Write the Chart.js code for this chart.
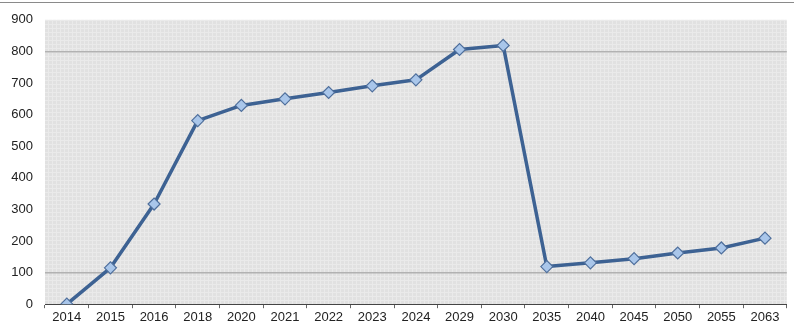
<!DOCTYPE html>
<html>
<head>
<meta charset="utf-8">
<script src="https://cdn.jsdelivr.net/npm/chart.js@4"></script>
<style>
  html, body { margin: 0; padding: 0; background: #fff; }
  #wrap { width: 794px; height: 324px; position: relative; }
</style>
</head>
<body>
<div id="wrap"><canvas id="chart" width="794" height="324"></canvas></div>
<script>
// ── DATA ──────────────────────────────────────────────
const years  = ["2014","2015","2016","2018","2020","2021","2022","2023","2024","2029","2030","2035","2040","2045","2050","2055","2063"];
const values = [0, 115, 317, 581, 629, 650, 670, 691, 710, 806, 819, 119, 131, 144, 162, 178, 209];
const yTicks = [0, 100, 200, 300, 400, 500, 600, 700, 800, 900];
const shownGrid = [100, 800];

// ── PLOT BACKGROUND (fine grey mesh) ──────────────────
function meshPattern(ctx) {
  const c = document.createElement("canvas");
  c.width = 4; c.height = 4;
  const p = c.getContext("2d");
  p.fillStyle = "#e1e1e1";
  p.fillRect(0, 0, 4, 4);
  p.fillStyle = "#eaeaea";
  p.fillRect(0, 0, 4, 1);
  p.fillRect(0, 0, 1, 4);
  return ctx.createPattern(c, "repeat");
}

const plotBg = {
  id: "plotBg",
  beforeDraw(chart) {
    const { ctx, chartArea: a } = chart;
    ctx.save();
    ctx.fillStyle = meshPattern(ctx);
    ctx.fillRect(a.left, a.top, a.right - a.left, a.bottom - a.top);
    // cut-off caption rule at the very top
    ctx.fillStyle = "#8a8a8a";
    ctx.fillRect(0, 2, chart.width, 1);
    ctx.restore();
  },
};

// ── CHART ─────────────────────────────────────────────
new Chart(document.getElementById("chart").getContext("2d"), {
  type: "line",
  data: {
    labels: years,
    datasets: [{
      data: values,
      borderColor: "#3d6293",
      borderWidth: 3.5,
      tension: 0,
      borderJoinStyle: "round",
      pointStyle: "rectRot",
      pointRadius: 6,
      pointBorderWidth: 1.2,
      pointBackgroundColor: "#a9c6ea",
      pointBorderColor: "#4f6f9c",
    }],
  },
  plugins: [plotBg],
  options: {
    responsive: false,
    animation: false,
    layout: { padding: { top: 17, right: 0, left: 0, bottom: 0 } },
    plugins: { legend: { display: false }, tooltip: { enabled: false } },
    scales: {
      x: {
        offset: true,
        grid: { offset: true, drawOnChartArea: false, drawTicks: true, tickLength: 4, color: "#666" },
        border: { display: true, color: "#444", width: 1 },
        ticks: { color: "#222", font: { family: "Liberation Sans", size: 13 }, padding: 1, maxRotation: 0, autoSkip: false },
        afterFit: s => { s.height = 19; },
      },
      y: {
        min: 0,
        max: 900,
        afterBuildTicks: s => { s.ticks = yTicks.map(v => ({ value: v })); },
        grid: {
          drawTicks: false,
          color: c => shownGrid.includes(c.tick && c.tick.value) ? "#b2b2b2" : "rgba(0,0,0,0)",
          lineWidth: 1.5,
        },
        border: { display: false },
        ticks: { color: "#222", font: { family: "Liberation Sans", size: 13 }, padding: 12 },
        afterFit: s => { s.width = 45; },
      },
    },
  },
});
</script>
</body>
</html>
